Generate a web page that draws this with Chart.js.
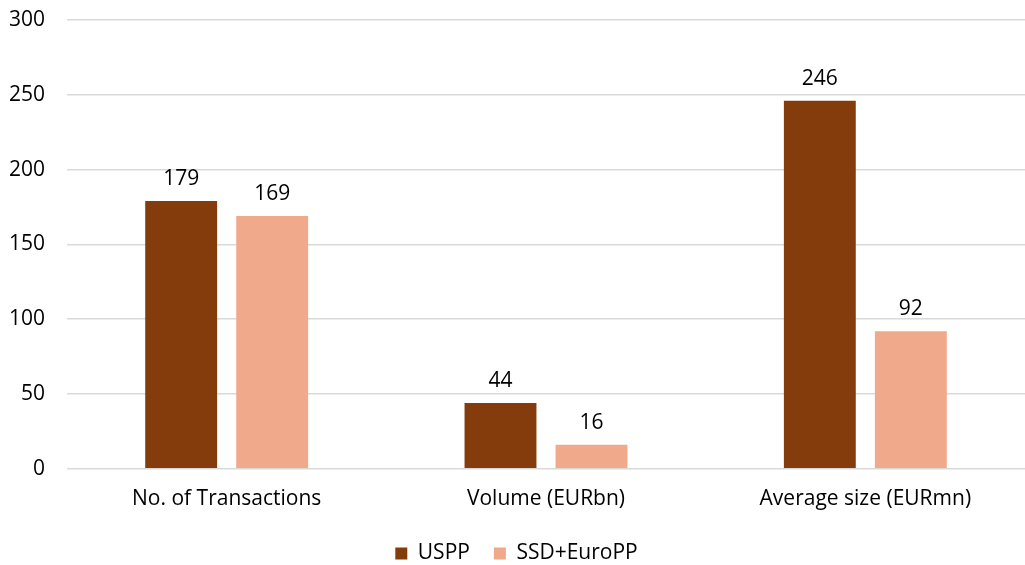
<!DOCTYPE html>
<html><head><meta charset="utf-8">
<script src="https://cdn.jsdelivr.net/npm/chart.js@4"></script>
<style>html,body{margin:0;padding:0;background:#fff;overflow:hidden}#wrap{width:1025px;height:574px}</style>
</head><body><div id="wrap"><canvas id="c"></canvas></div>
<script>
const categories = ["No. of Transactions", "Volume (EURbn)", "Average size (EURmn)"];
const usppValues = [179, 44, 246];
const euroValues = [169, 16, 92];
const seriesNames = ["USPP", "SSD+EuroPP"];
const yTicks = [0, 50, 100, 150, 200, 250, 300];

const FONT = "'Open Sans', sans-serif";
const FS = 21;
const labelPlugin = {
  id: 'labels',
  afterDatasetsDraw(chart) {
    const ctx = chart.ctx;
    ctx.save();
    ctx.font = FS + "px " + FONT;
    ctx.fillStyle = "#000";
    ctx.textAlign = "center";
    ctx.textBaseline = "alphabetic";
    chart.data.datasets.forEach((ds, i) => {
      chart.getDatasetMeta(i).data.forEach((bar, j) => {
        ctx.fillText(String(ds.data[j]), bar.x, bar.y - 16);
      });
    });
    ctx.restore();
  }
};

new Chart(document.getElementById('c'), {
  type: 'bar',
  data: {
    labels: categories,
    datasets: [
      { label: seriesNames[0], data: usppValues, backgroundColor: "#843C0C" },
      { label: seriesNames[1], data: euroValues, backgroundColor: "#F1A98C" }
    ]
  },
  options: {
    responsive: true,
    maintainAspectRatio: false,
    animation: false,
    layout: { padding: { top: 20, right: 0, left: 8, bottom: 0 } },
    datasets: { bar: { categoryPercentage: 0.57, barPercentage: 0.79 } },
    scales: {
      x: {
        grid: { display: false },
        border: { display: false },
        afterFit(axis) { axis.height -= 3; },
        ticks: { color: "#000", font: { family: FONT, size: FS }, padding: 10 }
      },
      y: {
        min: 0, max: 300,
        afterBuildTicks(axis) { axis.ticks = yTicks.map(v => ({ value: v })); },
        afterFit(axis) { axis.width = 59; axis.paddingTop = 0; axis.paddingBottom = 0; },
        grid: { color: "#d9d9d9", lineWidth: 1.5, drawTicks: false },
        border: { display: false },
        ticks: { color: "#000", font: { family: FONT, size: FS }, padding: 22 }
      }
    },
    plugins: {
      legend: {
        position: 'bottom',
        labels: { color: "#000", font: { family: FONT, size: FS }, boxWidth: 12, boxHeight: 12, padding: 24 }
      },
      tooltip: { enabled: false }
    }
  },
  plugins: [labelPlugin]
});
</script></body></html>
